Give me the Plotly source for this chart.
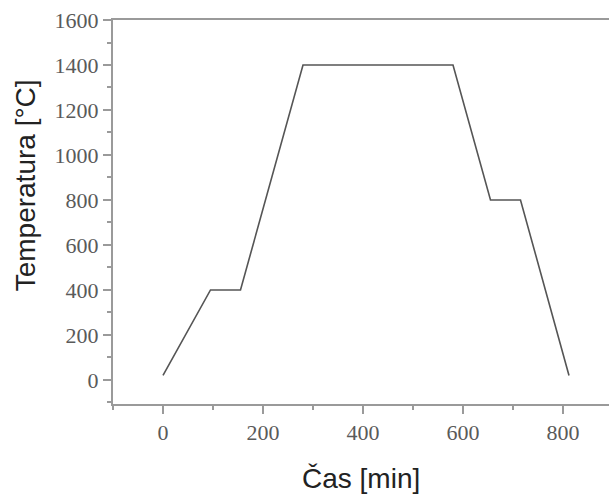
import plotly.graph_objects as go

time_min = [0, 95, 155, 280, 580, 655, 715, 812]
temp_c = [20, 400, 400, 1400, 1400, 800, 800, 20]

x_ticks = [0, 200, 400, 600, 800]
y_ticks = [0, 200, 400, 600, 800, 1000, 1200, 1400, 1600]

fig = go.Figure()
fig.add_trace(go.Scatter(x=time_min, y=temp_c, mode="lines",
                         line=dict(color="#555555", width=1.6), showlegend=False))

axis_color = "#9a9a9a"
tick_font = dict(family="Liberation Serif", size=22, color="#5a5a5a")

fig.update_layout(
    width=609, height=497,
    margin=dict(l=113, r=0, t=20, b=93),
    paper_bgcolor="white", plot_bgcolor="white",
    xaxis=dict(range=[-100, 892], tickvals=x_ticks, showgrid=False, zeroline=False,
               showline=True, linecolor=axis_color, linewidth=2, mirror=True,
               ticks="outside", ticklen=8, tickwidth=1.5, tickcolor=axis_color,
               tickfont=tick_font,
               minor=dict(ticks="outside", ticklen=4, tickwidth=1.5, tickcolor=axis_color,
                          dtick=100, tick0=0, showgrid=False)),
    yaxis=dict(range=[-107, 1600], tickvals=y_ticks, showgrid=False, zeroline=False,
               showline=True, linecolor=axis_color, linewidth=2,
               ticks="outside", ticklen=8, tickwidth=1.5, tickcolor=axis_color,
               tickfont=tick_font,
               minor=dict(ticks="outside", ticklen=4, tickwidth=1.5, tickcolor=axis_color,
                          dtick=100, tick0=0, showgrid=False)),
    annotations=[
        dict(text="Čas [min]", xref="paper", yref="paper", x=0.5, y=-0.193,
             xanchor="center", yanchor="middle", showarrow=False,
             font=dict(family="Liberation Sans", size=28, color="#222222")),
        dict(text="Temperatura [°C]", xref="paper", yref="paper", x=-0.177, y=0.57,
             xanchor="center", yanchor="middle", showarrow=False, textangle=-90,
             font=dict(family="Liberation Sans", size=28, color="#222222")),
    ],
)

fig.write_html("out.html")
